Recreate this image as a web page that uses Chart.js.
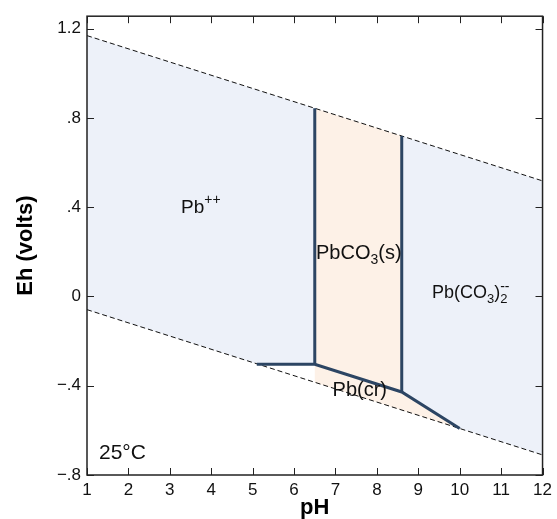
<!DOCTYPE html>
<html><head><meta charset="utf-8">
<script src="https://cdn.jsdelivr.net/npm/chart.js@4/dist/chart.umd.min.js"></script>
<style>html,body{margin:0;padding:0;background:#fff;}</style>
</head><body>
<canvas id="c" width="557" height="519" style="width:557px;height:519px;display:block"></canvas>
<script>
// ---- data ----
const xTicks = [1, 2, 3, 4, 5, 6, 7, 8, 9, 10, 11, 12];
const yTicks = [-0.8, -0.4, 0, 0.4, 0.8, 1.2];
const yTickLabels = ['\u2212.8', '\u2212.4', '0', '.4', '.8', '1.2'];

// water stability limits (dashed)
const waterPH = [1, 12];
const upperWaterEh = [1.169, 0.518];
const lowerWaterEh = [-0.059, -0.710];

// solid boundaries
const boundaryPH = [5.1, 6.5, 8.6, 10.0];
const boundaryEh = [-0.304, -0.304, -0.428, -0.592];
const leftVertPH = [6.5, 6.5];
const leftVertEh = [0.843, -0.304];
const rightVertPH = [8.6, 8.6];
const rightVertEh = [0.719, -0.428];

// filled fields
const pbIonPH = [1, 6.5, 6.5, 5.1, 1];
const pbIonEh = [1.169, 0.843, -0.304, -0.302, -0.059];
const carbonateIonPH = [8.6, 12, 12, 10, 8.6];
const carbonateIonEh = [0.719, 0.518, -0.710, -0.592, -0.428];
const solidPH = [6.5, 8.6, 8.6, 10, 6.5];
const solidEh = [0.843, 0.719, -0.428, -0.592, -0.385];

// field labels (anchor = left end of baseline, in data units)
const labelPH = [3.27, 6.53, 9.33, 6.93, 1.29];
const labelEh = [0.372, 0.170, -0.009, -0.447, -0.728];
const labelParts = [
  [{t: 'Pb'}, {t: '++', sup: true}],
  [{t: 'PbCO'}, {t: '3', sub: true}, {t: '(s)'}],
  [{t: 'Pb(CO'}, {t: '3', sub: true}, {t: ')'}, {t: '2', sub: true, supText: '--'}],
  [{t: 'Pb(cr)'}],
  [{t: '25\u00b0C'}]
];
const labelSizes = [19, 20, 18, 20, 21];

// ---- styles ----
const F = "'Liberation Sans', Arial, Helvetica, sans-serif";
const BLUE_FILL = '#edf1f9';
const PEACH_FILL = '#fdf1e7';
const LINE = '#2c4563';

const pts = (xs, ys) => xs.map((x, i) => ({x: x, y: ys[i]}));

const fillDs = (xs, ys, color) => ({
  data: pts(xs, ys), showLine: true, fill: 'shape', backgroundColor: color,
  borderWidth: 0, borderColor: 'rgba(0,0,0,0)', pointRadius: 0, order: 3, tension: 0
});
const solidDs = (xs, ys) => ({
  data: pts(xs, ys), showLine: true, fill: false, borderColor: LINE, borderWidth: 3,
  pointRadius: 0, order: 1, borderJoinStyle: 'miter', borderCapStyle: 'butt'
});
const dashDs = (xs, ys) => ({
  data: pts(xs, ys), showLine: true, fill: false, borderColor: '#111', borderWidth: 1,
  borderDash: [5, 3], pointRadius: 0, order: 2
});

const framePlugin = {
  id: 'frame',
  afterDatasetsDraw(chart) {
    const {ctx, chartArea: a, scales: {x, y}} = chart;
    ctx.save();
    ctx.strokeStyle = '#222';
    ctx.lineWidth = 1;
    const L = 7;
    ctx.beginPath();
    xTicks.forEach(v => {
      const px = Math.round(x.getPixelForValue(v)) + 0.5;
      ctx.moveTo(px, a.bottom); ctx.lineTo(px, a.bottom - L);
      ctx.moveTo(px, a.top); ctx.lineTo(px, a.top + L);
    });
    yTicks.forEach(v => {
      const py = Math.round(y.getPixelForValue(v)) + 0.5;
      ctx.moveTo(a.left, py); ctx.lineTo(a.left + L, py);
      ctx.moveTo(a.right, py); ctx.lineTo(a.right - L, py);
    });
    ctx.stroke();
    ctx.lineWidth = 1.5;
    ctx.strokeRect(a.left, a.top, a.right - a.left, a.bottom - a.top);
    ctx.restore();
  }
};

const labelPlugin = {
  id: 'fieldLabels',
  afterDatasetsDraw(chart) {
    const {ctx, scales: {x, y}} = chart;
    ctx.save();
    ctx.fillStyle = '#111';
    ctx.textAlign = 'left';
    ctx.textBaseline = 'alphabetic';
    labelParts.forEach((parts, i) => {
      const s = labelSizes[i];
      let px = x.getPixelForValue(labelPH[i]);
      const py = y.getPixelForValue(labelEh[i]);
      parts.forEach(p => {
        let size = s, dy = 0;
        if (p.sub) { size = Math.round(s * 0.7); dy = s * 0.25; }
        if (p.sup) { size = Math.round(s * 0.72); dy = -s * 0.5; }
        ctx.font = size + 'px ' + F;
        ctx.fillText(p.t, px, py + dy);
        if (p.supText) {
          ctx.font = Math.round(s * 0.8) + 'px ' + F;
          ctx.fillText(p.supText, px, py - s * 0.4);
        }
        ctx.font = size + 'px ' + F;
        px += ctx.measureText(p.t).width;
      });
    });
    ctx.restore();
  }
};

new Chart(document.getElementById('c'), {
  type: 'scatter',
  data: {
    datasets: [
      solidDs(boundaryPH, boundaryEh),
      solidDs(leftVertPH, leftVertEh),
      solidDs(rightVertPH, rightVertEh),
      dashDs(waterPH, upperWaterEh),
      dashDs(waterPH, lowerWaterEh),
      fillDs(pbIonPH, pbIonEh, BLUE_FILL),
      fillDs(carbonateIonPH, carbonateIonEh, BLUE_FILL),
      fillDs(solidPH, solidEh, PEACH_FILL)
    ]
  },
  options: {
    responsive: false,
    animation: false,
    devicePixelRatio: 1,
    layout: {padding: {top: 15, right: 11, left: 0, bottom: 0}},
    plugins: {legend: {display: false}, tooltip: {enabled: false}},
    scales: {
      x: {
        type: 'linear', min: 1, max: 12,
        afterBuildTicks: s => { s.ticks = xTicks.map(v => ({value: v})); },
        afterFit: s => { s.height = 44; },
        grid: {display: false, drawTicks: false},
        border: {display: false},
        ticks: {padding: 5, color: '#111', font: {size: 17, family: F}, callback: v => String(v)},
        title: {display: true, text: 'pH', color: '#000', padding: {top: 0, bottom: 0},
                font: {size: 22, weight: 'bold', family: F, lineHeight: 1.0}}
      },
      y: {
        type: 'linear', min: -0.8, max: 1.256,
        afterBuildTicks: s => { s.ticks = yTicks.map(v => ({value: v})); },
        afterFit: s => { s.width = 87; },
        grid: {display: false, drawTicks: false},
        border: {display: false},
        ticks: {padding: 6, color: '#111', font: {size: 17, family: F},
                callback: v => { const i = yTicks.findIndex(t => Math.abs(t - v) < 1e-6); return i >= 0 ? yTickLabels[i] : ''; }},
        title: {display: true, text: 'Eh (volts)', color: '#000', padding: {top: 14, bottom: 0},
                font: {size: 22, weight: 'bold', family: F, lineHeight: 1.1}}
      }
    }
  },
  plugins: [framePlugin, labelPlugin]
});
</script>
</body></html>
